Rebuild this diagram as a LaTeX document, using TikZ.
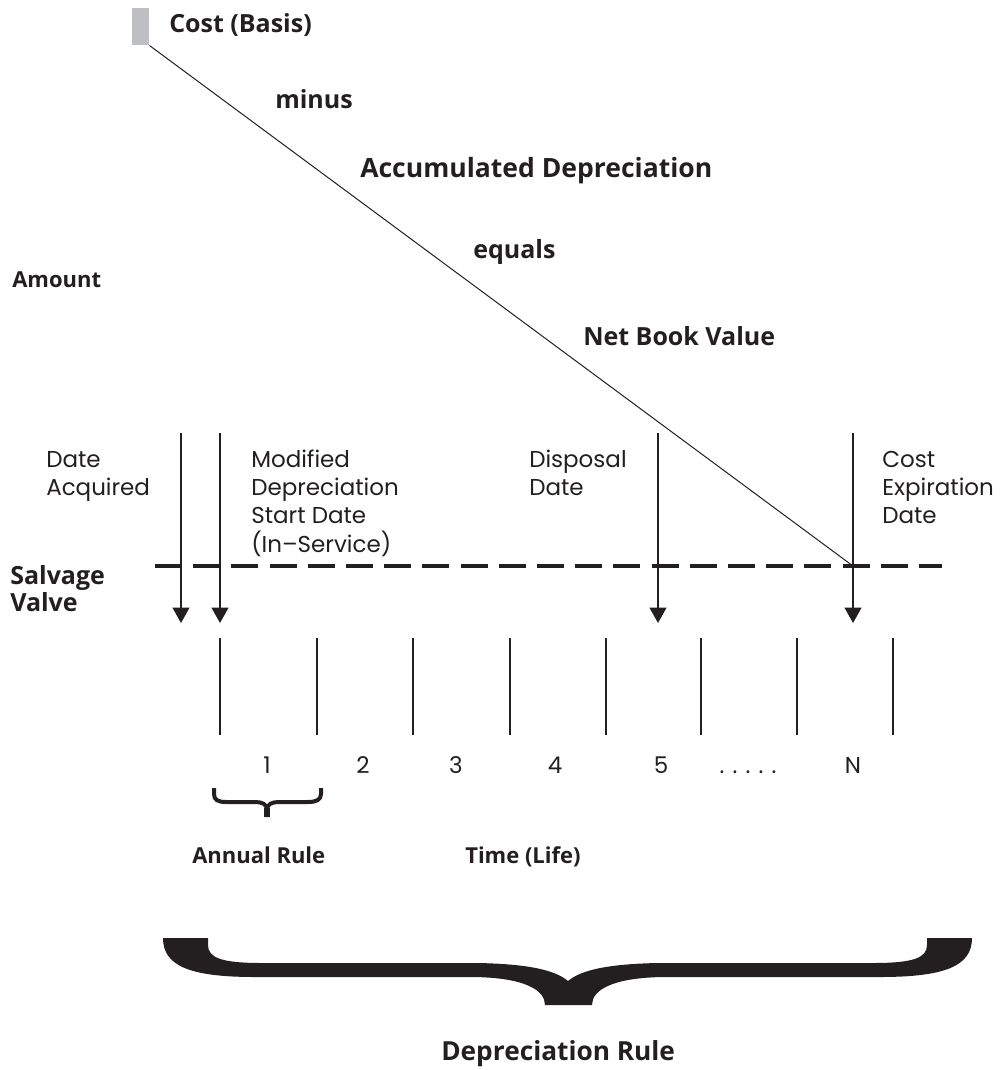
\documentclass[tikz,border=0pt]{standalone}
\usepackage{fontspec}
\setmainfont{Poppins}
\newfontfamily\headfont{Open Sans}
\usetikzlibrary{arrows.meta}
\definecolor{ink}{RGB}{35,31,32}
\definecolor{basisgray}{RGB}{190,191,195}
% light labels: 23px, bold labels: 25px, small bold labels: 22px (1px = 0.75pt)
\newcommand{\lightsize}{\fontsize{17.25}{21}\selectfont}
\newcommand{\headsize}{\fontsize{18.75}{20.25}\selectfont}
\newcommand{\smallheadsize}{\fontsize{16.5}{20}\selectfont}
\begin{document}
\begin{tikzpicture}[x=0.75pt,y=-0.75pt,
  lbl/.style={inner sep=0pt,anchor=base west,text=ink,font=\headfont\bfseries\headsize},
  smalllbl/.style={lbl,font=\headfont\bfseries\smallheadsize},
  note/.style={inner sep=0pt,anchor=base west,text=ink,font=\lightsize},
  num/.style={inner sep=0pt,anchor=base,text=ink,font=\lightsize},
  event/.style={draw=ink,line width=1.5pt,-{Triangle[width=12.5pt,length=11.5pt]}},
  tick/.style={draw=ink,line width=1.5pt},
  salvage/.style={draw=ink,line width=2.7pt,dash pattern=on 20.25pt off 8.4pt},
  basis/.style={fill=basisgray,inner sep=0pt,minimum width=12.75pt,minimum height=27.75pt,anchor=north west}]
\useasboundingbox (0,0) rectangle (1000,1070);

% cost marker and the declining book value line
\node[basis] (cost) at (132,8) {};
\coordinate (expiry) at (853,566);
\draw[ink,line width=0.75pt] (cost.south east) -- (expiry);

% value labels
\node[lbl] (costlbl) at (169,33) {Cost (Basis)};
\node[lbl] (minus) at (275,109) {minus};
\node[lbl,font=\headfont\bfseries\fontsize{19.9}{21}\selectfont] (accum) at (360,177) {Accumulated Depreciation};
\node[lbl] (equals) at (473,258) {equals};
\node[smalllbl] (amount) at (12,287) {Amount};
\node[lbl] (nbv) at (583,345) {Net Book Value};
\node[lbl] (salv) at (10,584) {\begin{tabular}[t]{@{}l@{}}Salvage\\Valve\end{tabular}};

% salvage level
\coordinate (salvL) at (155,566);
\coordinate (salvR) at (942,566);
\draw[salvage] (salvL) -- (salvR);

% event arrows
\coordinate (acqT) at (181,433);  \coordinate (acqB) at (181,623);
\coordinate (modT) at (220,433);  \coordinate (modB) at (220,623);
\coordinate (dispT) at (658,433); \coordinate (dispB) at (658,623);
\coordinate (expT) at (853,433);  \coordinate (expB) at (853,623);
\draw[event] (acqT) -- (acqB);
\draw[event] (modT) -- (modB);
\draw[event] (dispT) -- (dispB);
\draw[event] (expT) -- (expB);

\node[note] (acq) at (46,467) {\begin{tabular}[t]{@{}l@{}}Date\\Acquired\end{tabular}};
\node[note] (mod) at (251,467) {\begin{tabular}[t]{@{}l@{}}Modified\\Depreciation\\Start Date\\(In–Service)\end{tabular}};
\node[note] (disp) at (529,467) {\begin{tabular}[t]{@{}l@{}}Disposal\\Date\end{tabular}};
\node[note] (exp) at (882,467) {\begin{tabular}[t]{@{}l@{}}Cost\\Expiration\\Date\end{tabular}};

% year boundaries
\foreach \x in {220,317,413,510,606,701,797,893}
  \draw[tick] (\x,638) -- (\x,735);

% year numbers
\node[num] (y1) at (267,773) {1};
\node[num] (y2) at (363,773) {2};
\node[num] (y3) at (456,773) {3};
\node[num] (y4) at (555,773) {4};
\node[num] (y5) at (661,773) {5};
\node[num] (ydots) at (748,773) {. . . . .};
\node[num] (yN) at (853,773) {N};

% annual brace
\draw[ink,line width=3pt]
  (214,788) -- (214,794) .. controls (214,800) and (218,802) .. (226,802)
  -- (255,802) .. controls (262,802) and (267,804) .. (267,810) -- (267,817);
\draw[ink,line width=3pt]
  (321,788) -- (321,794) .. controls (321,800) and (316,802) .. (308,802)
  -- (279,802) .. controls (272,802) and (267,804) .. (267,810);
\fill[ink] (264,808) rectangle (270,817);

\node[smalllbl] (annual) at (192,863) {Annual Rule};
\node[smalllbl] (life) at (465,863) {Time (Life)};

% depreciation brace
\fill[ink] (163,938) -- (208,938) -- (208,945)
  .. controls (208,958) and (222,963) .. (262,963)
  -- (478,963) .. controls (528,964) and (555,970) .. (568,981)
  .. controls (581,970) and (608,964) .. (658,963)
  -- (873,963) .. controls (913,963) and (927,958) .. (927,945)
  -- (927,938) -- (972,938)
  .. controls (972,966) and (945,977) .. (880,977)
  -- (662,977) .. controls (612,978) and (592,990) .. (592,1005)
  -- (545,1005) .. controls (545,990) and (525,978) .. (475,977)
  -- (255,977) .. controls (190,977) and (163,966) .. (163,938) -- cycle;

\node[lbl,font=\headfont\bfseries\fontsize{19.7}{21}\selectfont] (deprule) at (441,1060) {Depreciation Rule};
\end{tikzpicture}
\end{document}
